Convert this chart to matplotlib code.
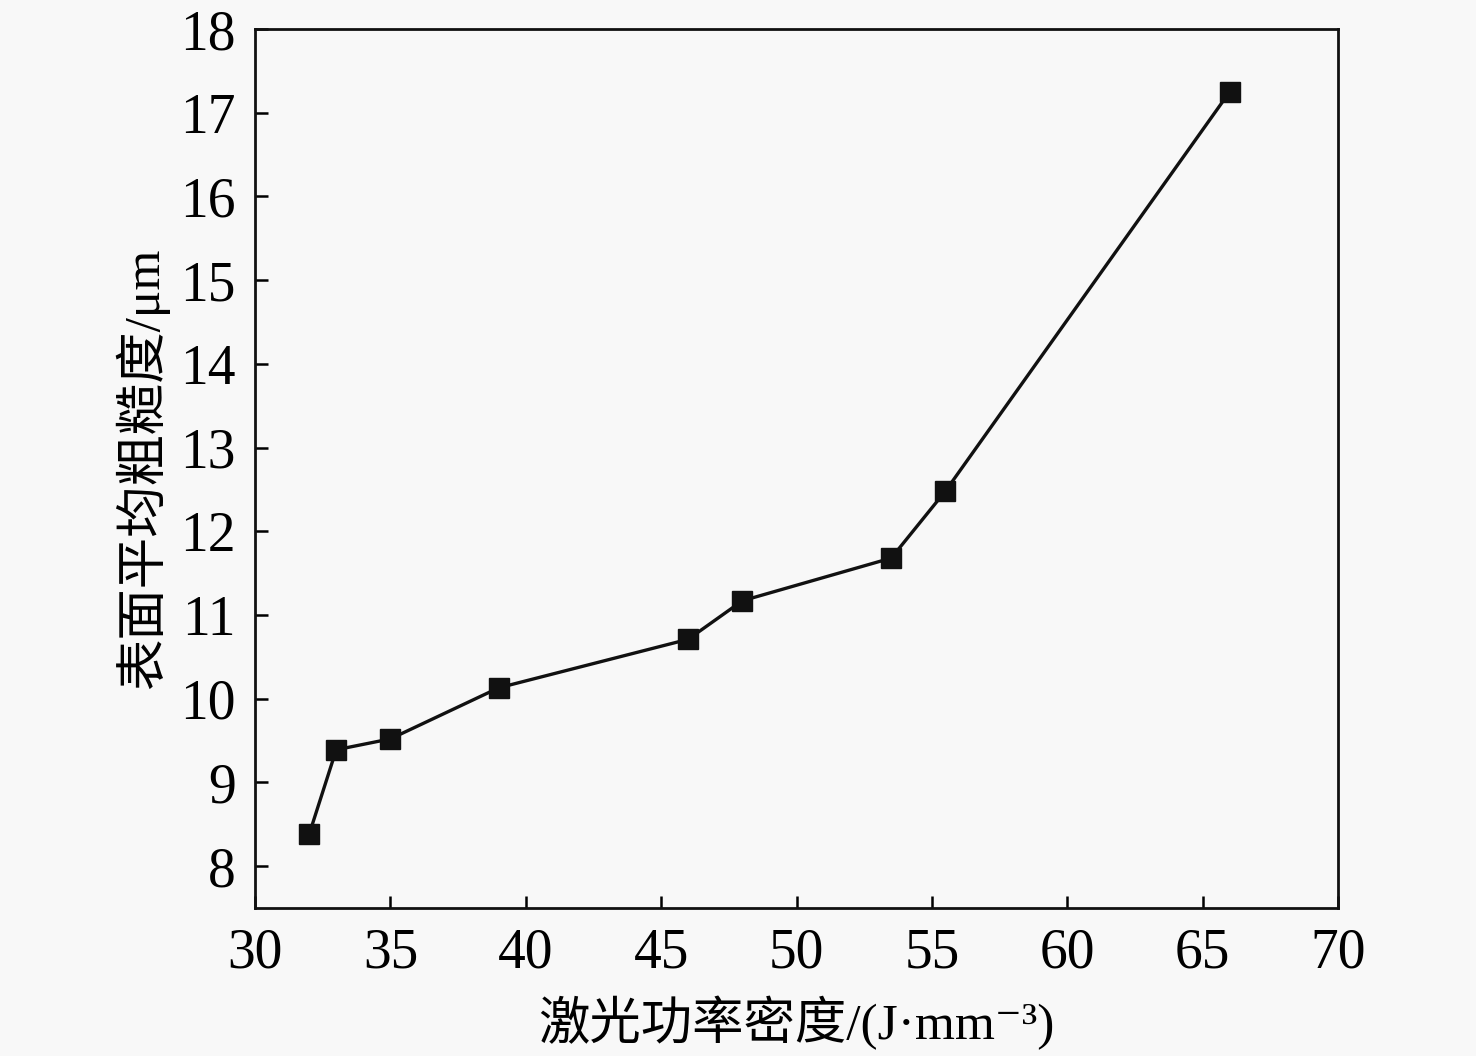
import matplotlib
matplotlib.use("Agg")
import matplotlib.pyplot as plt

energy_density = [32, 33, 35, 39, 46, 48, 53.5, 55.5, 66]
roughness = [8.38, 9.39, 9.52, 10.13, 10.71, 11.17, 11.68, 12.48, 17.25]
x_ticks = [30, 35, 40, 45, 50, 55, 60, 65, 70]
y_ticks = [8, 9, 10, 11, 12, 13, 14, 15, 16, 17, 18]

plt.rcParams['font.family'] = ['Liberation Serif', 'Noto Sans CJK SC', 'DejaVu Serif']

bg = '#f8f8f8'
fig = plt.figure(figsize=(14.76, 10.56), dpi=100, facecolor=bg)
ax = fig.add_axes([255/1476, 1-908/1056, (1338-255)/1476, (908-29)/1056], facecolor=bg)

ax.plot(energy_density, roughness, color='#111111', lw=2.4, marker='s',
        markersize=14, markerfacecolor='#111111', markeredgecolor='#111111')

ax.set_xlim(30, 70)
ax.set_ylim(7.5, 18)
ax.set_xticks(x_ticks)
ax.set_yticks(y_ticks)
ax.tick_params(direction='in', length=9, width=1.8, labelsize=40, pad=14,
               top=False, right=False)
for s in ax.spines.values():
    s.set_linewidth(2.0)
    s.set_color('#111111')

ax.set_xlabel('激光功率密度/(J·mm⁻³)', fontsize=37, labelpad=12)
ax.set_ylabel('表面平均粗糙度/μm', fontsize=37, labelpad=8)

fig.savefig('out.png', dpi=100, facecolor=bg)
